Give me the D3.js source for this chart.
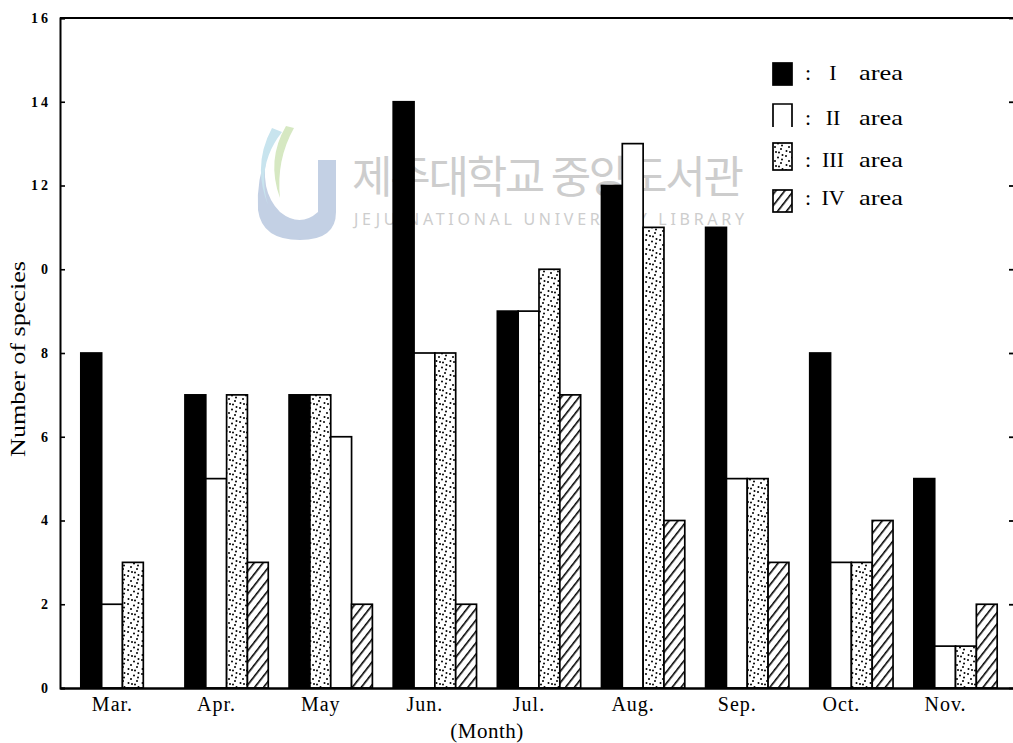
<!DOCTYPE html>
<html>
<head>
<meta charset="utf-8">
<script src="https://cdn.jsdelivr.net/npm/d3@7"></script>
<style>
  body { margin: 0; background: #fff; }
  svg { display: block; }
</style>
</head>
<body>
<div id="chart"></div>
<script>
var months = ["Mar.", "Apr.", "May", "Jun.", "Jul.", "Aug.", "Sep.", "Oct.", "Nov."];
var areaI = [8, 7, 7, 14, 9, 12, 11, 8, 5];
var areaII = [2, 5, 6, 8, 9, 13, 5, 3, 1];
var areaIII = [3, 7, 7, 8, 10, 11, 5, 3, 1];
var areaIV = [0, 3, 2, 2, 7, 4, 3, 4, 2];
// in May the dotted bar sits before the white one
var slotOrder = [[0,1,2,3],[0,1,2,3],[0,2,1,3],[0,1,2,3],[0,1,2,3],[0,1,2,3],[0,1,2,3],[0,1,2,3],[0,1,2,3]];
var yTicks = [0, 2, 4, 6, 8, 10, 12, 14, 16];
var yTickLabels = ["0", "2", "4", "6", "8", "0", "12", "14", "16"];
var legendLabels = ["I", "II", "III", "IV"];

var series = [areaI, areaII, areaIII, areaIV];
var fills = ["#000", "#fff", "url(#dots)", "url(#hatch)"];

var W = 1013, H = 743;
var margin = {left: 60, right: 1018, top: 18, bottom: 688};

var svg = d3.select("#chart").append("svg")
    .attr("width", W)
    .attr("height", H);

var defs = svg.append("defs");

var dots = defs.append("pattern")
    .attr("id", "dots")
    .attr("patternUnits", "userSpaceOnUse")
    .attr("width", 14)
    .attr("height", 14);
dots.append("rect").attr("width", 14).attr("height", 14).attr("fill", "#fff");
[[2,2],[8,3.5],[5,7],[11,9],[2.5,11],[9,12.5],[12.5,1],[6,12],[12,5.5]].forEach(function(p) {
    dots.append("circle").attr("cx", p[0]).attr("cy", p[1]).attr("r", 1).attr("fill", "#000");
});

var hatch = defs.append("pattern")
    .attr("id", "hatch")
    .attr("patternUnits", "userSpaceOnUse")
    .attr("width", 7)
    .attr("height", 7)
    .attr("patternTransform", "rotate(38)");
hatch.append("rect").attr("width", 7).attr("height", 7).attr("fill", "#fff");
hatch.append("line")
    .attr("x1", 0).attr("y1", 0).attr("x2", 0).attr("y2", 7)
    .attr("stroke", "#000").attr("stroke-width", 3.2);

// library watermark
var wm = svg.append("g").attr("fill", "#cdcdcd");
wm.append("path")
    .attr("d", "M318,160 L336,160 L336,212 Q336,240 300,240 Q262,240 258,210 Q256,180 268,150 Q258,190 280,212 Q300,228 318,212 Z")
    .attr("fill", "#c3d0e4");
wm.append("path")
    .attr("d", "M272,128 Q252,165 268,205 Q256,165 282,132 Z")
    .attr("fill", "#c8e4ee");
wm.append("path")
    .attr("d", "M286,126 Q266,160 280,198 Q276,160 294,128 Z")
    .attr("fill", "#d6e8c2");
wm.append("text")
    .attr("x", 352).attr("y", 193)
    .attr("font-family", "Noto Sans CJK KR")
    .attr("font-size", 44)
    .attr("textLength", 392)
    .text("제주대학교 중앙도서관");
wm.append("text")
    .attr("x", 354).attr("y", 225)
    .attr("font-family", "Noto Sans")
    .attr("font-size", 16)
    .attr("textLength", 390)
    .text("JEJU NATIONAL UNIVERSITY LIBRARY");

var x = d3.scaleBand()
    .domain(months)
    .range([margin.left, margin.right])
    .paddingInner(0.2)
    .paddingOuter(0.2);

var xs = d3.scaleBand()
    .domain([0, 1, 2, 3])
    .range([0, x.bandwidth()]);

var y = d3.scaleLinear().domain([0, 16]).range([margin.bottom, margin.top]);

// top frame line
svg.append("line").attr("x1", margin.left).attr("x2", W)
    .attr("y1", margin.top).attr("y2", margin.top)
    .attr("stroke", "#000").attr("stroke-width", 1.8);

var bars = [];
months.forEach(function(m, i) {
    slotOrder[i].forEach(function(s, slot) {
        var v = series[s][i];
        if (v > 0) bars.push({month: m, slot: slot, area: s, value: v});
    });
});

svg.append("g")
    .selectAll("rect")
    .data(bars)
    .join("rect")
    .attr("x", function(d) { return x(d.month) + xs(d.slot); })
    .attr("y", function(d) { return y(d.value); })
    .attr("width", xs.bandwidth())
    .attr("height", function(d) { return y(0) - y(d.value); })
    .attr("fill", function(d) { return fills[d.area]; })
    .attr("stroke", "#000")
    .attr("stroke-width", 1.7);

var yAxis = svg.append("g")
    .attr("transform", "translate(" + margin.left + ",0)")
    .call(d3.axisLeft(y).tickValues(yTicks)
        .tickFormat(function(d, i) { return yTickLabels[i]; })
        .tickSize(-5).tickPadding(9));
yAxis.select(".domain").attr("stroke-width", 2);
yAxis.selectAll(".tick line").attr("stroke-width", 1.6);
yAxis.selectAll("text")
    .attr("font-family", "Liberation Serif")
    .attr("font-weight", "bold")
    .attr("font-size", 14)
    .attr("letter-spacing", 3);

var yRight = svg.append("g")
    .attr("transform", "translate(" + margin.right + ",0)")
    .call(d3.axisRight(y).tickValues(yTicks).tickSize(-9).tickFormat(""));
yRight.selectAll(".tick line").attr("stroke-width", 1.8);

var xAxis = svg.append("g")
    .attr("transform", "translate(0," + margin.bottom + ")")
    .call(d3.axisBottom(x).tickSize(0).tickPadding(9));
xAxis.select(".domain").attr("stroke-width", 2.4);
xAxis.selectAll("text")
    .attr("dx", -10)
    .attr("font-family", "Liberation Serif")
    .attr("font-size", 20)
    .attr("letter-spacing", 1)
    .attr("fill", "#000");

svg.append("text")
    .attr("transform", "translate(25,359) rotate(-90)")
    .attr("text-anchor", "middle")
    .attr("font-family", "Liberation Serif")
    .attr("font-size", 22)
    .attr("textLength", 196)
    .attr("lengthAdjust", "spacingAndGlyphs")
    .text("Number of species");

svg.append("text")
    .attr("x", 487).attr("y", 738)
    .attr("text-anchor", "middle")
    .attr("font-family", "Liberation Serif")
    .attr("font-size", 21)
    .attr("letter-spacing", 0.5)
    .text("(Month)");

// legend
var swatchTop = [63, 104, 143, 190];
var swatchH = [22, 23, 27, 22];
var textBase = [80, 125, 167, 205];

var legend = svg.append("g")
    .selectAll("g")
    .data(legendLabels)
    .join("g");

legend.append("rect")
    .attr("x", 773)
    .attr("y", function(d, i) { return swatchTop[i]; })
    .attr("width", 19)
    .attr("height", function(d, i) { return swatchH[i]; })
    .attr("fill", function(d, i) { return fills[i]; })
    .attr("stroke", "#000")
    .attr("stroke-width", 1.7)
    .attr("stroke-dasharray", function(d, i) { return i === 1 ? "42,19,23" : null; });

legend.append("text")
    .attr("x", 805)
    .attr("y", function(d, i) { return textBase[i]; })
    .attr("font-family", "Liberation Serif")
    .attr("font-size", 22)
    .text(":");

legend.append("text")
    .attr("x", 833)
    .attr("y", function(d, i) { return textBase[i]; })
    .attr("text-anchor", "middle")
    .attr("font-family", "Liberation Serif")
    .attr("font-size", 22)
    .text(function(d) { return d; });

legend.append("text")
    .attr("x", 859)
    .attr("y", function(d, i) { return textBase[i]; })
    .attr("font-family", "Liberation Serif")
    .attr("font-size", 22)
    .attr("textLength", 44)
    .attr("lengthAdjust", "spacingAndGlyphs")
    .text("area");
</script>
</body>
</html>
